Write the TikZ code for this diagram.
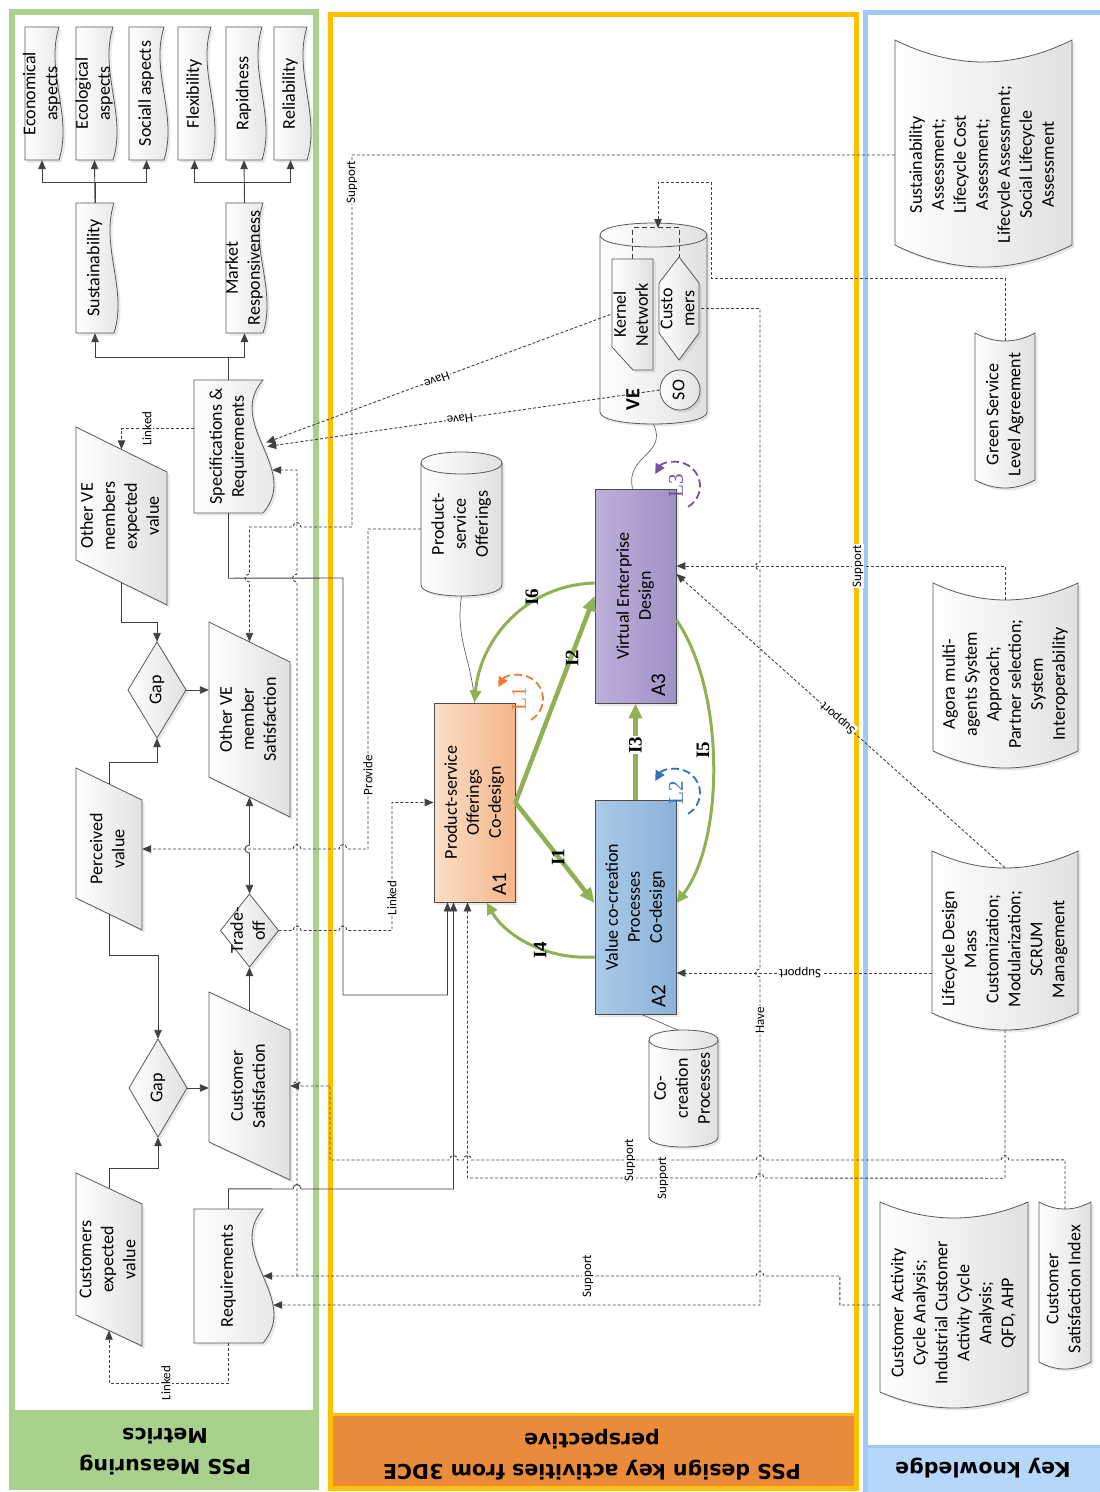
\documentclass[tikz,border=0pt]{standalone}
\usepackage{fontspec}
\setmainfont{Carlito}
\newfontfamily\headfont{DejaVu Sans}
\newfontfamily\serfont{Liberation Serif}
\usepackage{graphicx}
\usetikzlibrary{arrows.meta,shadows}

\definecolor{mgreen}{RGB}{169,209,142}
\definecolor{pyellow}{RGB}{255,192,0}
\definecolor{porange}{RGB}{233,139,58}
\definecolor{kblue}{RGB}{160,202,245}
\definecolor{kbfill}{RGB}{182,215,250}
\definecolor{igreen}{RGB}{143,177,84}
\definecolor{aonel}{RGB}{251,222,198}
\definecolor{aoner}{RGB}{243,182,138}
\definecolor{atwol}{RGB}{170,202,232}
\definecolor{atwor}{RGB}{140,178,216}
\definecolor{athreel}{RGB}{190,176,218}
\definecolor{athreer}{RGB}{160,144,199}
\definecolor{lorange}{RGB}{237,125,49}
\definecolor{lblue}{RGB}{46,117,182}
\definecolor{lpurple}{RGB}{120,80,170}

\newcommand\boxfont{\fontsize{18}{22}\selectfont}
\newcommand\rottext[1]{\rotatebox{90}{\begin{tabular}{@{}c@{}}#1\end{tabular}}}

% document shape, wavy right side: name, L, T, R, B, wave, text
\newcommand\docbox[7]{%
  \path[shapefill] (#2,#3) -- (#4,#3)
    .. controls ({#4-#6},{#3+(#5-#3)/3}) and ({#4+#6},{#3+2*(#5-#3)/3}) .. (#4,#5)
    -- (#2,#5) -- cycle;
  \node[txt, minimum width={#4-#2}, minimum height={#5-#3}] (#1) at ({(#2+#4)/2},{(#3+#5)/2}) {\rottext{#7}};
}
% data shape: name, L, T at left, R, side, drop, text
\newcommand\databox[7]{%
  \path[shapefill] (#2,#3) -- (#4,{#3+#6}) -- (#4,{#3+#6+#5}) -- (#2,{#3+#5}) -- cycle;
  \node[txt, minimum width={#4-#2}, minimum height={#5}] (#1) at ({(#2+#4)/2},{#3+#6/2+#5/2}) {\rottext{#7}};
}
% knowledge shape: name, L, T, R, B, sag, text
\newcommand\kbox[7]{%
  \path[shapefill] (#2,#3) .. controls ({#2+(#4-#2)/3},{#3+4*#6/3}) and ({#4-(#4-#2)/3},{#3+4*#6/3}) .. (#4,#3)
    -- (#4,#5) .. controls ({#4-(#4-#2)/3},{#5+4*#6/3}) and ({#2+(#4-#2)/3},{#5+4*#6/3}) .. (#2,#5) -- cycle;
  \node[txt, minimum width={#4-#2}, minimum height={#5-#3}] (#1) at ({(#2+#4)/2},{(#3+#5)/2+#6}) {\rottext{#7}};
}
% cylinder: name, L, T, R, B, ry, text
\newcommand\cylbox[7]{%
  \path[shapefill] (#2,#3) -- (#2,#5) .. controls (#2,{#5+4*#6/3}) and (#4,{#5+4*#6/3}) .. (#4,#5)
    -- (#4,#3) .. controls (#4,{#3-4*#6/3}) and (#2,{#3-4*#6/3}) .. (#2,#3) -- cycle;
  \draw[draw=black!65, line width=0.8pt] (#2,#3) .. controls (#2,{#3+4*#6/3}) and (#4,{#3+4*#6/3}) .. (#4,#3);
  \node[txt, minimum width={#4-#2}, minimum height={#5-#3+2*#6}] (#1) at ({(#2+#4)/2},{(#3+#5)/2}) {\rottext{#7}};
}
% decision: name, cx, cy, w, h, text
\newcommand\diabox[6]{%
  \path[shapefill] (#2,{#3-#5/2}) -- ({#2+#4/2},#3) -- (#2,{#3+#5/2}) -- ({#2-#4/2},#3) -- cycle;
  \node[txt, minimum width=#4, minimum height=#5] (#1) at (#2,#3) {\rottext{#6}};
}
% line jumps
\newcommand\hopL[2]{-- ({#1+4},#2) .. controls ({#1+4},{#2-6}) and ({#1-4},{#2-6}) .. ({#1-4},#2)}
\newcommand\hopR[2]{-- ({#1-4},#2) .. controls ({#1-4},{#2-6}) and ({#1+4},{#2-6}) .. ({#1+4},#2)}
\newcommand\hopD[2]{-- (#1,{#2-4}) .. controls ({#1-6},{#2-4}) and ({#1-6},{#2+4}) .. (#1,{#2+4})}
\newcommand\hopU[2]{-- (#1,{#2+4}) .. controls ({#1-6},{#2+4}) and ({#1-6},{#2-4}) .. (#1,{#2-4})}

\tikzset{
  softshadow/.style={drop shadow={opacity=0.18, shadow xshift=2.5pt, shadow yshift=-2.5pt}},
  shapefill/.style={draw=black!65, line width=0.8pt, left color=white, right color=black!12, softshadow},
  txt/.style={inner sep=0pt, font=\boxfont},
  abox/.style={draw=black!70, line width=0.9pt, inner sep=0pt, font=\boxfont, softshadow},
  conn/.style={draw=black!75, line width=0.9pt},
  dconn/.style={conn, dash pattern=on 3pt off 2pt},
  arr/.style={-{Triangle[length=9pt,width=7.5pt]}},
  biarr/.style={{Triangle[length=9pt,width=7.5pt]}-{Triangle[length=9pt,width=7.5pt]}},
  lab/.style={fill=white, inner sep=1pt, font=\fontsize{13}{13}\selectfont},
  gthick/.style={draw=igreen, line width=4.5pt, -{Triangle[length=15pt,width=13pt]}},
  gcurve/.style={draw=igreen, line width=3pt, -{Triangle[length=12pt,width=11pt]}},
  thinlink/.style={draw=black!60, line width=0.7pt},
  lloop/.style={line width=1.8pt, dash pattern=on 8pt off 4pt, {Triangle[length=10pt,width=10pt]}-},
  ilab/.style={font=\serfont\bfseries\fontsize{19}{19}\selectfont, rotate=90, inner sep=1pt},
  llab/.style={font=\serfont\fontsize{21}{21}\selectfont, rotate=90, inner sep=0pt},
  anum/.style={font=\fontsize{21}{21}\selectfont, rotate=90, inner sep=0pt},
  head/.style={font=\headfont\bfseries\fontsize{20.5}{31}\selectfont, align=center, rotate=180}
}

\begin{document}
\begin{tikzpicture}[x=1pt,y=-1pt]
\useasboundingbox (0,0) rectangle (1100,1492);

% Panels
\fill[mgreen] (9,1410) rectangle (319,1490);
\draw[mgreen, line width=6pt] (12,12) rectangle (316,1487);
\fill[porange] (328,1414) rectangle (858,1489);
\draw[pyellow, line width=5pt] (330,14) rectangle (856,1488);
\draw[pyellow, line width=3pt] (330,1414) -- (856,1414);
\fill[kbfill] (863,1446) rectangle (1100,1492);
\draw[kblue, line width=5pt] (1105,12) -- (865,12) -- (865,1492);
\draw[kblue, line width=3pt] (865,1446) -- (1100,1446);

\node[head] (hmet) at (165,1452) {PSS Measuring\\Metrics};
\node[head] (hact) at (592,1455) {PSS design key activities from 3DCE\\perspective};
\node[head] (hkey) at (983,1468) {Key knowledge};

% Metrics
\docbox{Econ}{25}{27}{59}{160}{14}{Economical\\aspects}
\docbox{Ecol}{76}{27}{113}{160}{14}{Ecological\\aspects}
\docbox{Soc}{129}{27}{164}{160}{14}{Sociall aspects}
\docbox{Flex}{178}{27}{211}{160}{14}{Flexibility}
\docbox{Rap}{226}{27}{262}{160}{14}{Rapidness}
\docbox{Rel}{274}{27}{307}{160}{14}{Reliability}
\docbox{Sus}{76}{203}{114}{333}{14}{Sustainability}
\docbox{Mkt}{226}{203}{263}{333}{14}{Market\\Responsiveness}
\docbox{Spec}{194}{380}{263}{513}{38}{Specifications \&\\Requirements}
\docbox{Req}{194}{1209}{263}{1343}{38}{Requirements}

\databox{OVE}{76}{427}{167}{133}{45}{Other VE\\members\\expected\\value}
\databox{OVS}{209}{622}{290}{155}{40}{Other VE\\member\\Satisfaction}
\databox{PV}{76}{768}{142}{130}{32}{Perceived\\value}
\databox{CS}{209}{992}{290}{150}{38}{Customer\\Satisfaction}
\databox{CEV}{76}{1173}{142}{142}{31}{Customers\\expected\\value}

\diabox{Gap1}{157}{690}{58}{96}{Gap}
\diabox{Gap2}{158}{1088}{58}{98}{Gap}
\diabox{Trade}{249.5}{930.5}{58}{73}{Trade-\\off}

% Key knowledge
\kbox{SusA}{895}{40}{1072}{245}{22}{Sustainability\\Assessment;\\Lifecycle Cost\\Assessment;\\Lifecycle Assessment;\\Social Lifecycle\\Assessment}
\kbox{GSLA}{975}{333}{1035}{480}{8}{Green Service\\Level Agreement}
\kbox{Agora}{933}{583}{1078}{751}{17}{Agora multi-\\agents System\\Approach;\\Partner selection;\\System\\Interoperability}
\kbox{Life}{932}{851}{1078}{1013}{17}{Lifecycle Design\\Mass\\Customization;\\Modularization;\\SCRUM\\Management}
\kbox{CAC}{880}{1202}{1028}{1392}{16}{Customer Activity\\Cycle Analysis;\\Industrial Customer\\Activity Cycle\\Analysis;\\QFD, AHP}
\kbox{CSI}{1039}{1202}{1091}{1362}{7}{Customer\\Satisfaction Index}

% Stores
\cylbox{PSO}{421}{463}{502}{585}{11}{Product-\\service\\Offerings}
\cylbox{COP}{649}{1040}{718}{1137}{10}{Co-\\creation\\Processes}
\cylbox{VE}{600}{235}{707}{412}{12}{}

% VE members
\path[shapefill] (612,259) -- (653,259) -- (653,370) -- (633,370) -- (612,347) -- cycle;
\node[txt, minimum width=41, minimum height=111] (Kern) at (632.5,314.5) {\rottext{Kernel\\Network}};
\path[shapefill] (679,257) -- (699,283) -- (699,333) -- (679,360) -- (659,333) -- (659,283) -- cycle;
\node[txt, minimum width=40, minimum height=103] (Cust) at (679,308.5) {\rottext{Custo\\mers}};
\node[circle, shapefill, inner sep=0pt, minimum size=40pt, font=\boxfont] (SO) at (680,390) {\rottext{SO}};
\node[font=\fontsize{20}{20}\selectfont\bfseries, rotate=90, inner sep=0pt] (VElab) at (633,400) {VE};
\draw[dconn, dash pattern=on 5pt off 3pt] (Kern.north) -- ++(0,-31) -| (Cust.north);
\coordinate (vetop) at (658,228);

% Activities
\node[abox, left color=aonel, right color=aoner, minimum width=81, minimum height=199] (A1) at (474.5,802.5) {\rottext{Product-service\\Offerings\\Co-design}};
\node[abox, left color=athreel, right color=athreer, minimum width=81, minimum height=214] (A3) at (635.5,596) {\rottext{Virtual Enterprise\\Design}};
\node[abox, left color=atwol, right color=atwor, minimum width=81, minimum height=214] (A2) at (635.5,907) {\rottext{Value co-creation\\Processes\\Co-design}};
\node[anum] (n1) at ([xshift=-16pt,yshift=18pt]A1.south east) {A1};
\node[anum] (n3) at ([xshift=-18pt,yshift=18pt]A3.south east) {A3};
\node[anum] (n2) at ([xshift=-18pt,yshift=18pt]A2.south east) {A2};

% Metric tree
\draw[conn,arr] (Sus.north) -- ++(0,-20) -| (Econ.south);
\draw[conn,arr] (Sus.north) -- (Ecol.south);
\draw[conn,arr] (Sus.north) -- ++(0,-20) -| (Soc.south);
\draw[conn,arr] (Mkt.north) -- ++(0,-20) -| (Flex.south);
\draw[conn,arr] (Mkt.north) -- (Rap.south);
\draw[conn,arr] (Mkt.north) -- ++(0,-20) -| (Rel.south);
\draw[conn,arr] (Spec.north) -- ++(0,-22) -| (Sus.south);
\draw[conn,arr] (Spec.north) -- ++(0,-22) -| (Mkt.south);

% Value gaps
\draw[dconn,arr] ([yshift=18pt]Spec.west) -| (OVE.north);
\draw[conn,arr] (OVE.south) -- ++(0,40) -| (Gap1.north);
\draw[conn,arr] (Gap1.east) -- (Gap1.east -| OVS.west);
\draw[conn,arr] (PV.north) -- ++(0,-21) -| (Gap1.south);
\draw[conn,arr] (PV.south) -- ++(0,41) -| (Gap2.north);
\draw[conn,arr] (Gap2.east) -- (Gap2.east -| CS.west);
\draw[conn,arr] (CEV.north) -- ++(0,-20) -| (Gap2.south);
\draw[conn,arr] (CS.north) -- (Trade.south);
\draw[conn,biarr] (OVS.south) \hopD{249.5}{849} -- (Trade.north);
\draw[dconn,arr] (Req.south) -- ++(0,40) -| (CEV.south);

% Requirements to A1
\draw[conn,arr] (Spec.south) -- ++(0,65) -- (343,578) -- (343,995) -| ([xshift=-27pt]A1.south);
\draw[conn,arr] (Req.north) -- ++(0,-20) \hopR{297}{1189} -| ([xshift=-21pt]A1.south);

% Dashed links
\draw[dconn,arr] ([yshift=9.5pt]SusA.west) -| (352,527) \hopL{297}{527} -- (249.5,527) \hopD{249.5}{578} -- (OVS.north);
\draw[dconn,arr] ([yshift=-5pt]PSO.west) -| (368,849) \hopL{343}{849} \hopL{297}{849} -- (PV.east);
\draw[dconn,arr] (Trade.east) \hopR{297}{930.5} \hopR{343}{930.5} -- (392,930.5) |- (A1.west);
\draw[dconn,arr] (Kern.west) -- ([xshift=3pt,yshift=4pt]Spec.east);
\draw[dconn,arr] (SO.west) -- ([xshift=4pt]Spec.east);
\draw[dconn,arr] (Cust.east) -- (760,308.5) \hopD{760}{566} \hopD{760}{973} -- (760,1305) -- ([xshift=10pt,yshift=-29pt]Req.east);
\draw[dconn,arr] (GSLA.north) |- (711,278) -- (711,182) -| (vetop);
\draw[dconn,arr] (Agora.north) |- ([yshift=30pt]A3.east);
\draw[dconn,arr] (Life.north) -- ([yshift=22pt]A3.east);
\draw[dconn,arr] ([yshift=-24pt]Life.west) -- ([yshift=-66pt]A2.east);
\draw[dconn,arr] (Life.south) -- ++(0,148) \hopL{760}{1178} -| ([xshift=-7pt]A1.south);
\draw[dconn,arr] (CSI.north) -- ++(0,-49) \hopL{1005}{1160} \hopL{760}{1160} \hopL{467.5}{1160} \hopL{453.5}{1160} -- (330,1160) -- (330,1086) \hopL{297}{1086} -- (CS.east);
\coordinate (sj) at (297,1276);
\draw[dconn,arr] ([yshift=8pt]CAC.west) -- ++(-40,0) -- ++(0,-29) \hopL{760}{1276} -- (Req.east);
\draw[dconn,arr] (sj) \hopU{297}{578} |- ([xshift=9pt,yshift=-23.5pt]Spec.east);

% Link labels
\node[lab, rotate=90] (lk1) at (147,428.5) {Linked};
\node[lab, rotate=90] (lk2) at (166,1383) {Linked};
\node[lab, rotate=90] (lk3) at (392,898) {Linked};
\node[lab, rotate=90] (pr) at (368,775) {Provide};
\node[lab, rotate=90] (sp1) at (352,182) {Support};
\node[lab, rotate=90] (sp2) at (858,566) {Support};
\node[lab, rotate=138] (sp3) at (838,718) {Support};
\node[lab, rotate=180] (sp4) at (800,973) {Support};
\node[lab, rotate=90] (sp5) at (630,1160) {Support};
\node[lab, rotate=90] (sp6) at (663,1178) {Support};
\node[lab, rotate=90] (sp7) at (588,1276) {Support};
\node[lab, rotate=200] (hv1) at (437,380) {Have};
\node[lab, rotate=188] (hv2) at (460,419) {Have};
\node[lab, rotate=90] (hv3) at (760,1020) {Have};

% Stores to activities
\draw[thinlink] (PSO.south) .. controls (455,640) and (472,660) .. (A1.north);
\draw[thinlink] (VE.south) .. controls (668,455) and (625,455) .. ([xshift=-3pt]A3.north);
\draw[thinlink] ([xshift=6pt]A2.south) .. controls (660,1022) and (668,1026) .. ([xshift=-6pt]COP.north);

% Interactions
\draw[gthick] (A1.east) -- ([yshift=4pt]A2.west);
\draw[gthick] (A1.east) -- (A3.west);
\draw[gthick] (A2.north) -- (A3.south);
\draw[gcurve] ([yshift=-50pt]A2.west) .. controls (545,960) and (505,935) .. ([xshift=12pt]A1.south);
\draw[gcurve] ([yshift=-24pt]A3.east) .. controls (725,690) and (725,840) .. ([yshift=4pt]A2.east);
\draw[gcurve] ([yshift=13pt]A3.west) .. controls (525,585) and (480,640) .. (A1.north);
\node[ilab] (i1) at (558,857) {I1};
\node[ilab] (i2) at (572,658) {I2};
\node[ilab, fill=white] (i3) at (635.5,745) {I3};
\node[ilab] (i4) at (540,950) {I4};
\node[ilab] (i5) at (703,750) {I5};
\node[ilab] (i6) at (532,597) {I6};

% Loops
\draw[lloop, draw=lorange] (519,699) ++(150:24pt) arc[start angle=150, end angle=-60, radius=24pt];
\node[llab, text=lorange] (L1) at (519,699) {L1};
\draw[lloop, draw=lblue] (676,793) ++(150:24pt) arc[start angle=150, end angle=-60, radius=24pt];
\node[llab, text=lblue] (L2) at (676,793) {L2};
\draw[lloop, draw=lpurple] (676,486) ++(150:24pt) arc[start angle=150, end angle=-60, radius=24pt];
\node[llab, text=lpurple] (L3) at (676,486) {L3};

\end{tikzpicture}
\end{document}
